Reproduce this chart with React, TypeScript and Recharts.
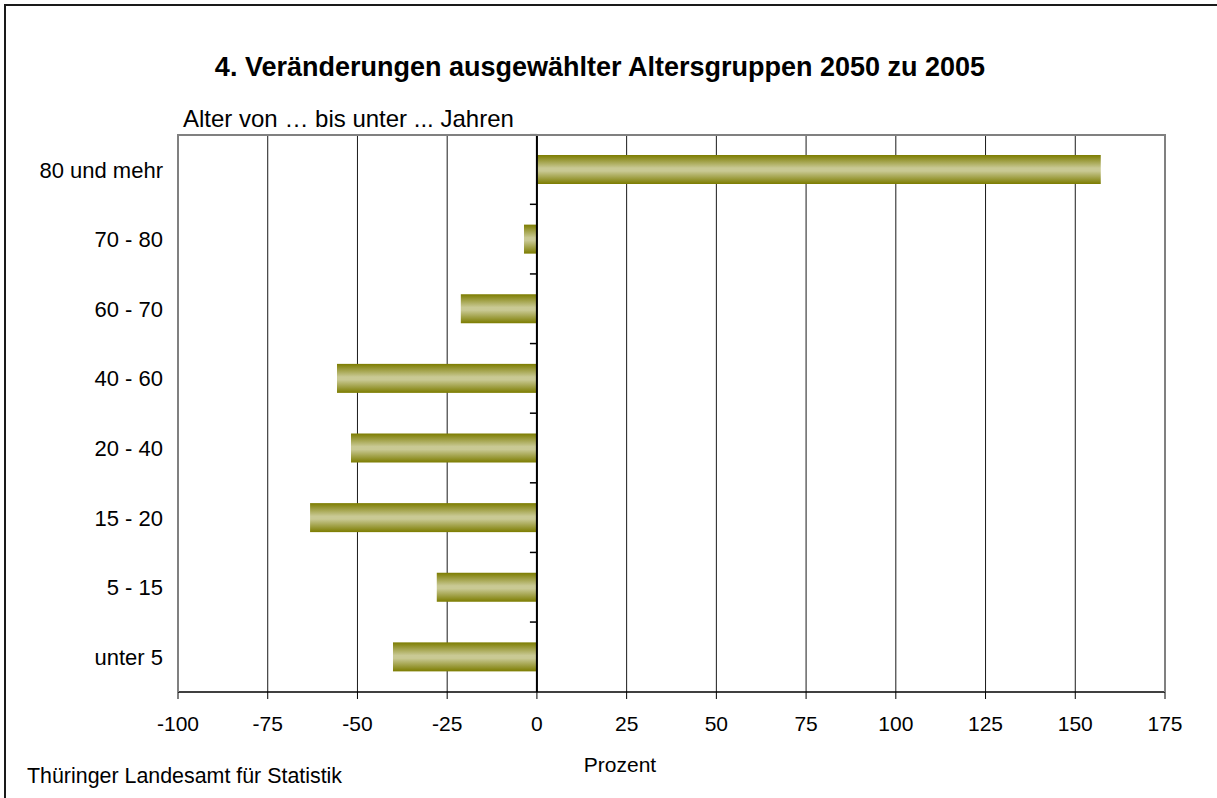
import React from "react";
import {
  BarChart,
  Bar,
  XAxis,
  YAxis,
  CartesianGrid,
  ReferenceLine,
} from "recharts";

// Altersgruppen, von oben nach unten
const groups: string[] = [
  "80 und mehr",
  "70 - 80",
  "60 - 70",
  "40 - 60",
  "20 - 40",
  "15 - 20",
  "5 - 15",
  "unter 5",
];

// Veraenderung 2050 zu 2005 in Prozent
const changes: number[] = [157.1, -3.6, -21.2, -55.7, -51.8, -63.2, -27.9, -40.1];

const xTicks: number[] = [-100, -75, -50, -25, 0, 25, 50, 75, 100, 125, 150, 175];

const data = groups.map((g, i) => ({ group: g, value: changes[i] }));

const font = "'Liberation Sans', Arial, sans-serif";

const W = 1217;
const H = 798;
const M = { top: 135, right: 52, bottom: 66, left: 0 };
const X_AXIS_H = 40;
const plotH = H - M.top - M.bottom - X_AXIS_H;
const band = plotH / groups.length;

function OliveBar(props: any) {
  const { x, y, width, height, value } = props;
  const left = Math.min(x, x + width);
  const w = Math.abs(width);
  const zero = value < 0 ? left + w : left;
  const bandTop = y + height / 2 - band / 2;
  return (
    <g>
      <rect x={left} y={y} width={w} height={height} fill="url(#oliveGrad)" />
      <line
        x1={zero - 7}
        x2={zero}
        y1={bandTop}
        y2={bandTop}
        stroke="#000"
        strokeWidth={1.5}
      />
    </g>
  );
}

export default function App() {
  return (
    <div
      style={{
        position: "absolute",
        left: 0,
        top: 0,
        width: W,
        height: H,
        background: "#fff",
        fontFamily: font,
      }}
    >
      <BarChart
        width={W}
        height={H}
        data={data}
        layout="vertical"
        barSize={29}
        margin={M}
      >
        <defs>
          <linearGradient id="oliveGrad" x1="0" y1="0" x2="0" y2="1">
            <stop offset="0%" stopColor="#7c7c00" />
            <stop offset="45%" stopColor="#c9c994" />
            <stop offset="55%" stopColor="#c9c994" />
            <stop offset="100%" stopColor="#7c7c00" />
          </linearGradient>
        </defs>
        <CartesianGrid horizontal={false} stroke="#000" strokeOpacity={0.9} />
        <XAxis
          type="number"
          domain={[-100, 175]}
          ticks={xTicks}
          interval={0}
          height={X_AXIS_H}
          tickSize={7}
          tickMargin={17}
          axisLine={{ stroke: "#000", strokeWidth: 1.5 }}
          tickLine={{ stroke: "#000" }}
          tick={{ fill: "#000", fontSize: 21, fontFamily: font }}
        />
        <YAxis
          type="category"
          dataKey="group"
          width={178}
          axisLine={false}
          tickLine={false}
          tickSize={0}
          tickMargin={15}
          interval={0}
          tick={{ fill: "#000", fontSize: 22, fontFamily: font }}
        />
        <ReferenceLine x={0} stroke="#000" strokeWidth={2} />
        <Bar dataKey="value" isAnimationActive={false} shape={OliveBar} />
      </BarChart>
      <svg
        width={W}
        height={H}
        style={{ position: "absolute", left: 0, top: 0, pointerEvents: "none" }}
      >
        <path d="M5,798 V5 H1217" fill="none" stroke="#1a1a1a" strokeWidth={2} />
        <path d="M178,692 V135 H1165 V692" fill="none" stroke="#808080" strokeWidth={2} />
        <text
          x={600}
          y={76}
          textAnchor="middle"
          fontFamily={font}
          fontWeight="bold"
          fontSize={27}
          fill="#000"
        >
          4. Veränderungen ausgewählter Altersgruppen 2050 zu 2005
        </text>
        <text x={183} y={127} fontFamily={font} fontSize={24} fill="#000">
          Alter von … bis unter ... Jahren
        </text>
        <text x={620} y={772} textAnchor="middle" fontFamily={font} fontSize={21} fill="#000">
          Prozent
        </text>
        <text x={27} y={783} fontFamily={font} fontSize={21.4} fill="#000">
          Thüringer Landesamt für Statistik
        </text>
      </svg>
    </div>
  );
}
